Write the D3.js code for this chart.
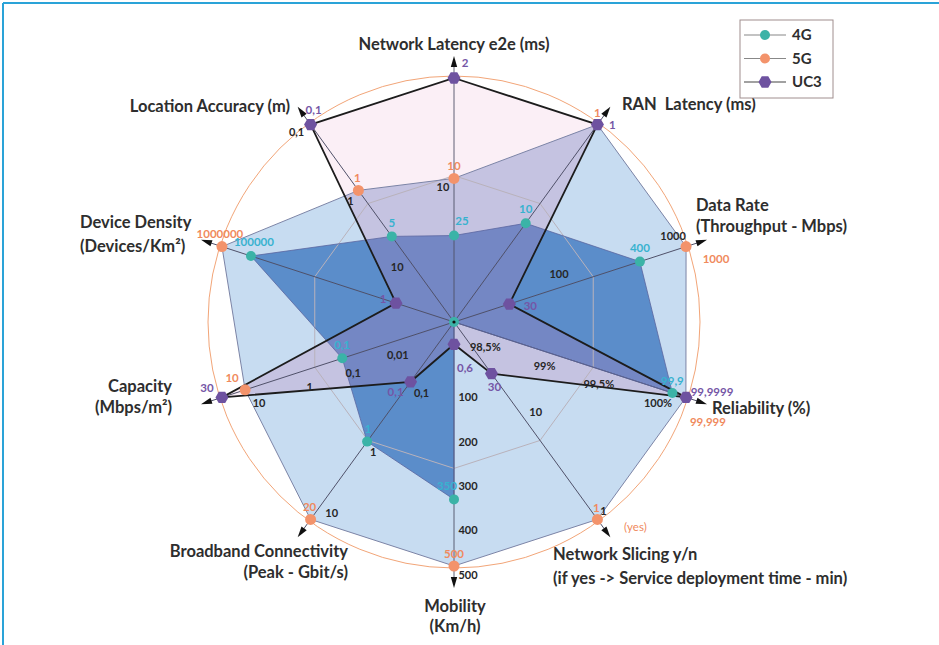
<!DOCTYPE html>
<html>
<head>
<meta charset="utf-8">
<script src="https://cdn.jsdelivr.net/npm/d3@7"></script>
<style>
  body { margin: 0; background: #fff; }
  svg { display: block; font-family: Lato, "Open Sans", sans-serif; }
</style>
</head>
<body>
<svg id="chart" width="939" height="645"></svg>
<script>
// ---- data ----
const axisNames = [
  ["Network Latency e2e (ms)"],
  ["RAN  Latency (ms)"],
  ["Data Rate", "(Throughput - Mbps)"],
  ["Reliability (%)"],
  ["Network Slicing y/n", "(if yes -> Service deployment time - min)"],
  ["Mobility", "(Km/h)"],
  ["Broadband Connectivity", "(Peak - Gbit/s)"],
  ["Capacity", "(Mbps/m²)"],
  ["Device Density", "(Devices/Km²)"],
  ["Location Accuracy (m)"]
];

const seriesNames = ["4G", "5G", "UC3"];
const values4G = [25, 10, 400, 99.9, null, 350, 1, 0.1, 100000, 5];
const values5G = [10, 1, 1000, 99.999, 1, 500, 20, 10, 1000000, 1];
const valuesUC3 = [2, 1, 30, 99.9999, 30, 0.6, 0.1, 30, 1, 0.1];

// tick labels on each axis
const axisTicks = [
  [10],
  [],
  [100, 1000],
  [98.5, 99, 99.5, 100],
  [10, 1],
  [100, 200, 300, 400, 500],
  [0.1, 1, 10],
  [0.01, 0.1, 1, 10],
  [],
  [10, 1, 0.1]
];
const tickSuffix = ["", "", "", "%", "", "", "", "", "", ""];

// every axis has its own scale (most are log, some inverted)
const axisTypes = ["log", "log", "log", "linear", "log", "linear", "log", "log", "log", "log"];
const axisDomains = [
  [100, 2], [100, 1], [10, 1000], [98.3, 100], [100, 1],
  [0, 500], [0.01, 20], [0.0005, 30], [0.01, 1000000], [100, 0.1]
];

// ---- layout ----
const cx = 454, cy = 322, R = 244;
const axisInner = [0, 0, 0, 0, 0, 22, 0, 0, 0, 0];

const colors = {
  "4G": { marker: "#3bb3a7", text: "#38b2cf", fill: "#5b8dca" },
  "5G": { marker: "#f3936b", text: "#f08a5d", fill: "#c7dcf1" },
  "UC3": { marker: "#6e52a0", text: "#7556a6" }
};

// value label offsets (dx, dy from the marker)
const labelOffsets = {
  "4G": [[8, -15], [0, -14], [0, -14], [0, -12], null, [-7, -13], [1, -13], [0, -13], [3, -14], [0, -13]],
  "5G": [[0, -12], [0, -12], [30, 12], [22, 25], [-1, -11], [0, -12], [-1, -12], [-13, -12], [-2, -13], [-1, -12]],
  "UC3": [[11, -15], [15, 0], [21, 2], [26, -5], [3, 13], [11, 24], [-15, 10], [-15, -9], [-13, -4], [3, -15]]
};
const tickOffsets = [
  [[-11, 9]],
  [],
  [[-11, -10], [-13, -10]],
  [[4, 16], [-5, 13], [-19, 9], [-28, 6]],
  [[10, -9], [6, -8]],
  [[14, 9], [14, 9], [14, 9], [14, 9], [14, 9]],
  [[11, 11], [6, 11], [8, 12]],
  [[7, 13], [11, 15], [16, 13], [14, 13]],
  [],
  [[-9, 11], [-8, 11], [-14, 8]]
];
const titleLayout = [
  { x: 454, y: 50, anchor: "middle", lh: 0 },
  { x: 622, y: 110, anchor: "start", lh: 0 },
  { x: 696, y: 211, anchor: "start", lh: 21 },
  { x: 712, y: 414, anchor: "start", lh: 0 },
  { x: 553, y: 560, anchor: "start", lh: 24 },
  { x: 455, y: 612, anchor: "middle", lh: 20 },
  { x: 348, y: 557, anchor: "end", lh: 21 },
  { x: 172, y: 392, anchor: "end", lh: 21 },
  { x: 80, y: 228, anchor: "start", lh: 24 },
  { x: 290, y: 112, anchor: "end", lh: 0 }
];

const svg = d3.select("#chart");
const n = axisNames.length;

const scales = axisDomains.map((dom, i) => {
  const s = axisTypes[i] === "log" ? d3.scaleLog() : d3.scaleLinear();
  return s.domain(dom).range([axisInner[i], R]);
});
const angle = (i) => (i * 2 * Math.PI) / n;
function pos(i, v) {
  const r = v == null ? 0 : scales[i](v);
  const a = angle(i);
  return [cx + r * Math.sin(a), cy - r * Math.cos(a)];
}
function ring(r) {
  return d3.range(n).map((i) => [cx + r * Math.sin(angle(i)), cy - r * Math.cos(angle(i))]);
}
const fmt = (v) => String(v).replace(".", ",");
const closed = d3.line().curve(d3.curveLinearClosed);

// frame
svg.append("line").attr("x1", 3).attr("y1", 3).attr("x2", 939).attr("y2", 3)
  .attr("stroke", "#2aa3d8").attr("stroke-width", 2);
svg.append("line").attr("x1", 3).attr("y1", 3).attr("x2", 3).attr("y2", 645)
  .attr("stroke", "#2aa3d8").attr("stroke-width", 2);

const pts4G = values4G.map((v, i) => pos(i, v));
const pts5G = values5G.map((v, i) => pos(i, v));
const ptsUC3 = valuesUC3.map((v, i) => pos(i, v));

svg.append("clipPath").attr("id", "clip5g")
  .append("path").attr("d", closed(pts5G));

// fills
svg.append("path").attr("d", closed(ptsUC3)).attr("fill", "#fbeff6");
svg.append("path").attr("d", closed(pts5G)).attr("fill", colors["5G"].fill);
svg.append("path").attr("d", closed(pts4G)).attr("fill", colors["4G"].fill);
svg.append("path").attr("d", closed(ptsUC3))
  .attr("fill", "rgba(190,120,180,0.25)")
  .attr("clip-path", "url(#clip5g)");

// grid
svg.append("path").attr("d", closed(ring(R * 0.6)))
  .attr("fill", "none").attr("stroke", "#b9b2bb").attr("stroke-width", 1);
svg.append("circle").attr("cx", cx).attr("cy", cy).attr("r", R + 2)
  .attr("fill", "none").attr("stroke", "#f2a578").attr("stroke-width", 1);

// axes with arrows
const axisG = svg.append("g").attr("transform", `translate(${cx},${cy})`);
axisNames.forEach((d, i) => {
  const g = axisG.append("g").attr("transform", `rotate(${(angle(i) * 180) / Math.PI})`);
  g.append("line").attr("x1", 0).attr("y1", 0).attr("x2", 0).attr("y2", -257)
    .attr("stroke", "#4f5068").attr("stroke-width", 0.9);
  g.append("path").attr("d", "M0,-266L-3.2,-255L3.2,-255Z").attr("fill", "#111");
});

// outlines
svg.append("path").attr("d", closed(pts5G))
  .attr("fill", "none").attr("stroke", "#7c84a6").attr("stroke-width", 1);
svg.append("path").attr("d", closed(pts4G))
  .attr("fill", "none").attr("stroke", "#5a66a0").attr("stroke-width", 0.8);
svg.append("path").attr("d", closed(ptsUC3))
  .attr("fill", "none").attr("stroke", "#1c1c1c").attr("stroke-width", 1.8);

// tick labels
axisTicks.forEach((ticks, i) => {
  ticks.forEach((t, k) => {
    const p = pos(i, t);
    const o = tickOffsets[i][k];
    svg.append("text")
      .attr("x", p[0] + o[0]).attr("y", p[1] + o[1]).attr("dy", "0.35em")
      .attr("text-anchor", "middle")
      .attr("font-size", 11).attr("font-weight", "bold").attr("fill", "#262626")
      .text(fmt(t) + tickSuffix[i]);
  });
});

// markers
function hexagon(r) {
  return d3.range(6).map((k) => {
    const a = (k * Math.PI) / 3;
    return [r * Math.cos(a), r * Math.sin(a)];
  });
}
const hexPath = closed(hexagon(6.5));

pts5G.forEach((p) => {
  svg.append("circle").attr("cx", p[0]).attr("cy", p[1]).attr("r", 5.5)
    .attr("fill", colors["5G"].marker);
});
pts4G.forEach((p) => {
  svg.append("circle").attr("cx", p[0]).attr("cy", p[1]).attr("r", 5)
    .attr("fill", colors["4G"].marker);
});
svg.append("circle").attr("cx", cx).attr("cy", cy).attr("r", 1.6).attr("fill", "#111");
ptsUC3.forEach((p) => {
  svg.append("path").attr("d", hexPath)
    .attr("transform", `translate(${p[0]},${p[1]})`)
    .attr("fill", colors["UC3"].marker);
});

// value labels
[["4G", values4G, pts4G], ["5G", values5G, pts5G], ["UC3", valuesUC3, ptsUC3]].forEach(([name, vals, pts]) => {
  vals.forEach((v, i) => {
    const o = labelOffsets[name][i];
    if (v == null || !o) return;
    svg.append("text")
      .attr("x", pts[i][0] + o[0]).attr("y", pts[i][1] + o[1]).attr("dy", "0.35em")
      .attr("text-anchor", "middle")
      .attr("font-size", 11.5).attr("font-weight", "bold")
      .attr("fill", colors[name].text)
      .text(fmt(v));
  });
});
// 5G network slicing is a "yes"
svg.append("text")
  .attr("x", pts5G[4][0] + 38).attr("y", pts5G[4][1] + 8).attr("dy", "0.35em")
  .attr("text-anchor", "middle").attr("font-size", 11.5)
  .attr("fill", colors["5G"].text).text("(yes)");

// axis titles
axisNames.forEach((lines, i) => {
  const L = titleLayout[i];
  const t = svg.append("text")
    .attr("x", L.x).attr("y", L.y).attr("text-anchor", L.anchor)
    .style("white-space", "pre")
    .attr("font-size", 16.5).attr("font-weight", "bold").attr("fill", "#2e2e2e");
  lines.forEach((s, k) => {
    t.append("tspan").attr("x", L.x).attr("dy", k === 0 ? 0 : L.lh).text(s);
  });
});

// legend
const leg = svg.append("g").attr("transform", "translate(740,20)");
leg.append("rect").attr("width", 93).attr("height", 78)
  .attr("fill", "#fff").attr("stroke", "#a08e8e").attr("stroke-width", 1);
seriesNames.forEach((name, k) => {
  const y = 15 + k * 23.5;
  leg.append("line").attr("x1", 4).attr("x2", 46).attr("y1", y).attr("y2", y)
    .attr("stroke", name === "UC3" ? "#444" : "#888").attr("stroke-width", 1.2);
  if (name === "UC3") {
    leg.append("path").attr("d", hexPath).attr("transform", `translate(25,${y})`)
      .attr("fill", colors[name].marker);
  } else {
    leg.append("circle").attr("cx", 25).attr("cy", y).attr("r", 5)
      .attr("fill", colors[name].marker);
  }
  leg.append("text").attr("x", 52).attr("y", y).attr("dy", "0.35em")
    .attr("font-size", 15).attr("font-weight", "bold").attr("fill", "#2e2e2e")
    .text(name);
});
</script>
</body>
</html>
